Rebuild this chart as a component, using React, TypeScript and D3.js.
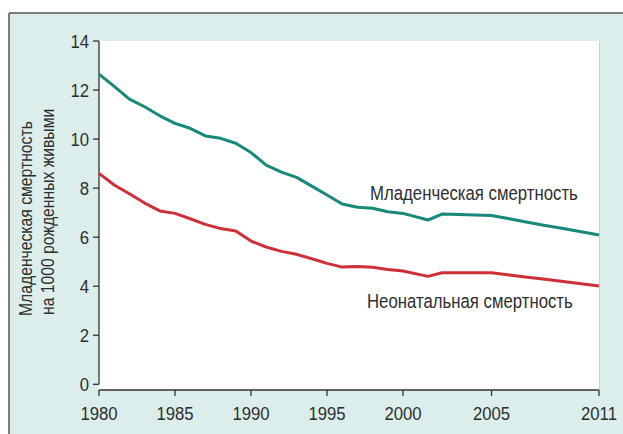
import React from "react";
import * as d3 from "d3";

const years = [
  1980, 1981, 1982, 1983, 1984, 1985, 1986, 1987, 1988, 1989,
  1990, 1991, 1992, 1993, 1994, 1995, 1996, 1997, 1998, 1999,
  2000, 2001, 2002, 2003, 2004, 2005, 2006, 2007, 2008, 2009,
  2010, 2011,
];

// младенческая смертность, на 1000 рожденных живыми
const infantRates = [
  12.65, 12.15, 11.63, 11.32, 10.95, 10.64, 10.44, 10.13, 10.03, 9.83,
  9.45, 8.94, 8.65, 8.44, 8.08, 7.72, 7.35, 7.22, 7.18, 7.04,
  6.97, 6.7, 6.94, 6.92, 6.9, 6.88, 6.75, 6.61, 6.48, 6.35,
  6.22, 6.09,
];

// неонатальная смертность
const neonatalRates = [
  8.6, 8.13, 7.77, 7.39, 7.07, 6.97, 6.75, 6.52, 6.35, 6.25,
  5.84, 5.6, 5.42, 5.3, 5.12, 4.93, 4.78, 4.8, 4.77, 4.68,
  4.62, 4.4, 4.55, 4.55, 4.55, 4.55, 4.46, 4.37, 4.28, 4.19,
  4.1, 4.01,
];

const yTicks = [0, 2, 4, 6, 8, 10, 12, 14];
const xTicks = [1980, 1985, 1990, 1995, 2000, 2005, 2011];
const yTitleLines = ["Младенческая смертность", "на 1000 рожденных живыми"];
const infantLabel = "Младенческая смертность";
const neonatalLabel = "Неонатальная смертность";

const W = 623;
const H = 434;
const FONT = "'Liberation Sans', Arial, sans-serif";
const TEXT = "#2e2e2e";
const GREEN = "#17897a";
const RED = "#cf2f37";

// the original axis is not evenly spaced after 2000
const x = d3
  .scaleLinear()
  .domain([1980, 2000, 2001, 2002, 2005, 2011])
  .range([99, 403, 428, 442, 491.5, 599]);
const y = d3.scaleLinear().domain([0, 14]).range([384.3, 41]);

const line = d3
  .line<number>()
  .x((_, i) => x(years[i]))
  .y((d) => y(d));

// condensed-looking text: squeeze horizontally around its anchor point
const Narrow: React.FC<{
  x: number;
  y: number;
  sx: number;
  size: number;
  anchor?: "start" | "middle" | "end";
  dy?: string;
  children: React.ReactNode;
}> = ({ x, y, sx, size, anchor = "start", dy, children }) => (
  <g transform={`translate(${x},${y}) scale(${sx},1)`}>
    <text textAnchor={anchor} fontSize={size} dy={dy} fill={TEXT}>
      {children}
    </text>
  </g>
);

const App: React.FC = () => {
  const axisY = 390;
  return (
    <svg
      width={W}
      height={H}
      style={{ position: "absolute", left: 0, top: 0 }}
      fontFamily={FONT}
    >
      <rect x={0} y={0} width={W} height={H} fill="#fff" />
      {/* outer panel */}
      <rect x={9} y={13} width={W - 9} height={H - 13} fill="#dceeeb" />
      <line x1={9} x2={W} y1={13} y2={13} stroke="#555" strokeWidth={1.5} />
      <line x1={9} x2={9} y1={13} y2={H} stroke="#555" strokeWidth={1.5} />

      {/* plot area */}
      <rect x={99} y={41} width={500} height={axisY - 41} fill="#fff" />
      <line x1={599.5} x2={599.5} y1={41} y2={axisY} stroke="#c8d2d0" />

      {/* y axis */}
      <line x1={99} x2={99} y1={41} y2={y(0)} stroke="#333" strokeWidth={1.3} />
      {yTicks.map((t) => (
        <g key={t}>
          <line x1={93} x2={99} y1={y(t)} y2={y(t)} stroke="#333" strokeWidth={1.3} />
          <Narrow x={89} y={y(t)} dy="0.36em" anchor="end" size={19} sx={0.88}>
            {t}
          </Narrow>
        </g>
      ))}

      {/* x axis */}
      <line x1={99} x2={599} y1={axisY} y2={axisY} stroke="#333" strokeWidth={1.3} />
      {xTicks.map((t) => (
        <g key={t}>
          <line x1={x(t)} x2={x(t)} y1={axisY} y2={axisY + 6} stroke="#333" strokeWidth={1.3} />
          <Narrow x={x(t)} y={420} anchor="middle" size={19} sx={0.88}>
            {t}
          </Narrow>
        </g>
      ))}

      {/* y title */}
      <g transform="rotate(-90)">
        <Narrow x={-316} y={32} size={18.5} sx={0.85}>
          {yTitleLines[0]}
        </Narrow>
        <Narrow x={-315} y={54} size={18.5} sx={0.85}>
          {yTitleLines[1]}
        </Narrow>
      </g>

      {/* series */}
      <path d={line(infantRates) ?? ""} fill="none" stroke={GREEN} strokeWidth={3} strokeLinejoin="round" />
      <path d={line(neonatalRates) ?? ""} fill="none" stroke={RED} strokeWidth={3} strokeLinejoin="round" />

      <Narrow x={370} y={200} size={19.5} sx={0.86}>
        {infantLabel}
      </Narrow>
      <Narrow x={367} y={308} size={19.5} sx={0.86}>
        {neonatalLabel}
      </Narrow>
    </svg>
  );
};

export default App;
